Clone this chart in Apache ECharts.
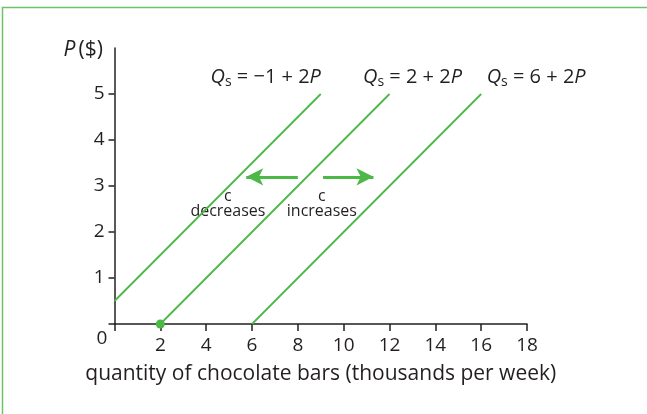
<!DOCTYPE html>
<html><head><meta charset="utf-8">
<script src="https://cdn.jsdelivr.net/npm/echarts@6/dist/echarts.min.js"></script>
<style>html,body{margin:0;padding:0;background:#fff}#c{width:647px;height:414px}</style>
</head><body><div id="c"></div>
<script>
// data
const xTicks = [0, 2, 4, 6, 8, 10, 12, 14, 16, 18];
const xLabels = [2, 4, 6, 8, 10, 12, 14, 16, 18];
const yTicks = [0, 1, 2, 3, 4, 5];
const yLabels = [1, 2, 3, 4, 5];
const supply1 = [[0, 0.5], [9, 5]];   // Qs = -1 + 2P
const supply2 = [[2, 0], [12, 5]];    // Qs = 2 + 2P
const supply3 = [[6, 0], [16, 5]];    // Qs = 6 + 2P
const eqLabels = ['−1 + 2', '2 + 2', '6 + 2'];
const arrowLeft = [[8.0, 3.2], [5.75, 3.2]];
const arrowRight = [[9.1, 3.2], [11.3, 3.2]];
const noteDec = [4.95, 2.62];
const noteInc = [9.05, 2.62];

const FONT = 'Open Sans';
const TXT = '#231f20';
const GREEN = '#4cb848';
const ARROW = '#4cb848';

function eqRich(s) {
  return {
    formatter: '{i|Q}{s|s}{n| = ' + s + '}{i|P}',
    rich: {
      i: {fontStyle: 'italic', fontSize: 20, fontFamily: FONT, color: TXT},
      s: {fontSize: 14, fontFamily: FONT, color: TXT, verticalAlign: 'bottom', padding: [9, 0, 0, 0]},
      n: {fontSize: 20, fontFamily: FONT, color: TXT}
    }
  };
}
function supplySeries(data, eq, offX) {
  return {
    type: 'line', data: data, showSymbol: false, silent: true,
    lineStyle: {color: GREEN, width: 1.8},
    markPoint: {
      symbol: 'circle', symbolSize: 0,
      data: [{coord: data[1], label: Object.assign({show: true, position: 'top', distance: 0, offset: [offX, -5]}, eqRich(eq))}]
    }
  };
}

const chart = echarts.init(document.getElementById('c'));
chart.setOption({
  animation: false,
  textStyle: {fontFamily: FONT},
  grid: {left: 114.5, right: 120, top: 48, bottom: 90},
  xAxis: {
    type: 'value', min: 0, max: 18, interval: 2,
    splitLine: {show: false},
    axisLine: {lineStyle: {color: TXT, width: 1.5}},
    axisTick: {length: 7, lineStyle: {color: TXT, width: 1.5}, customValues: xTicks},
    axisLabel: {color: TXT, fontSize: 19, fontFamily: FONT, margin: 12, customValues: xLabels},
    name: 'quantity of chocolate bars (thousands per week)',
    nameLocation: 'middle', nameGap: 40,
    nameTextStyle: {color: TXT, fontSize: 21, fontFamily: FONT}
  },
  yAxis: {
    type: 'value', min: 0, max: 6, interval: 1,
    splitLine: {show: false},
    axisLine: {lineStyle: {color: TXT, width: 1.5}},
    axisTick: {length: 6, lineStyle: {color: TXT, width: 1.5}, customValues: yTicks},
    axisLabel: {color: TXT, fontSize: 19, fontFamily: FONT, margin: 10, customValues: yLabels}
  },
  graphic: [
    {type: 'polyline', shape: {points: [[2.5, 414], [2.5, 7.5], [647, 7.5]]}, style: {stroke: '#6cc36a', lineWidth: 1.5, fill: null}},
    {type: 'text', x: 103, y: 50, style: {text: '{i|P} {n|($)}', align: 'right', verticalAlign: 'middle',
      rich: {i: {fontStyle: 'italic', fontSize: 21, fontFamily: FONT, fill: TXT}, n: {fontSize: 21, fontFamily: FONT, fill: TXT}}}},
    {type: 'text', x: 102, y: 339, style: {text: '0', align: 'center', verticalAlign: 'middle', fontSize: 19, fontFamily: FONT, fill: TXT}}
  ],
  series: [
    supplySeries(supply1, eqLabels[0], -55),
    supplySeries(supply2, eqLabels[1], 23),
    supplySeries(supply3, eqLabels[2], 55),
    {
      type: 'scatter', data: [[2, 0]], symbolSize: 9, itemStyle: {color: GREEN, opacity: 1}, silent: true, z: 5
    },
    {
      type: 'line', data: [], silent: true,
      markLine: {
        silent: true, symbol: ['none', 'arrow'], symbolSize: [13, 17],
        lineStyle: {color: ARROW, width: 3, type: 'solid'},
        label: {show: false},
        data: [
          [{coord: arrowLeft[0]}, {coord: arrowLeft[1]}],
          [{coord: arrowRight[0]}, {coord: arrowRight[1]}]
        ]
      }
    },
    {
      type: 'scatter', symbolSize: 0, silent: true, itemStyle: {opacity: 1},
      data: [noteDec, noteInc].map((d, i) => ({value: d, label: {formatter: i === 0 ? 'c\ndecreases' : 'c\nincreases'}})),
      label: {show: true, position: 'inside', color: TXT, fontSize: 16, fontFamily: FONT, lineHeight: 15, align: 'center'}
    }
  ]
});
</script></body></html>
